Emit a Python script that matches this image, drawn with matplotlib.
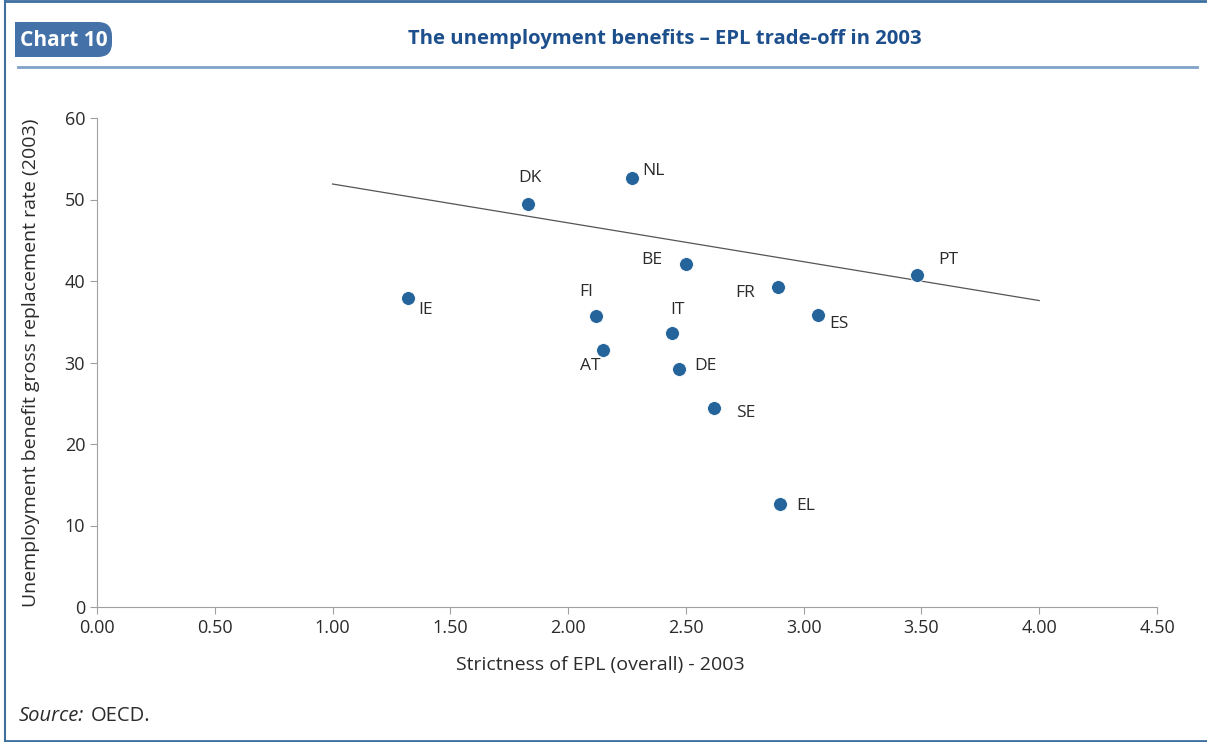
import numpy as np
import matplotlib.pyplot as plt
from matplotlib.patches import FancyBboxPatch, Rectangle

# data
countries = ["IE", "DK", "NL", "BE", "FI", "IT", "AT", "DE", "SE", "FR", "ES", "PT", "EL"]
epl = [1.32, 1.83, 2.27, 2.50, 2.12, 2.44, 2.15, 2.47, 2.62, 2.89, 3.06, 3.48, 2.90]
replacement = [37.9, 49.4, 52.6, 42.1, 35.7, 33.6, 31.5, 29.2, 24.4, 39.3, 35.8, 40.7, 12.6]
trend_x = [1.0, 4.0]
trend_y = [51.9, 37.6]
x_ticks = [0.0, 0.5, 1.0, 1.5, 2.0, 2.5, 3.0, 3.5, 4.0, 4.5]
y_ticks = [0, 10, 20, 30, 40, 50, 60]

# label offsets in pixels (dx, dy)
offsets = {"IE": (18, -12), "DK": (2, 26), "NL": (22, 7), "BE": (-34, 4),
           "FI": (-10, 24), "IT": (6, 23), "AT": (-13, -16), "DE": (27, 3),
           "SE": (32, -5), "FR": (-33, -6), "ES": (21, -9), "PT": (32, 15),
           "EL": (26, -2)}

plt.rcParams['font.family'] = ['Open Sans', 'DejaVu Sans']
text_col = "#2b2b2b"
axis_col = "#a0a0a0"
dot_col = "#24649a"
frame_col = "#3f6f9f"

W, H = 1207, 742
fig = plt.figure(figsize=(W / 100, H / 100), dpi=100)

# overlay in pixel coordinates for the frame and header
ov = fig.add_axes([0, 0, 1, 1])
ov.set_xlim(0, W)
ov.set_ylim(H, 0)
ov.axis("off")
ov.plot([5, 5], [0, H], color=frame_col, lw=1.5)
ov.plot([5, W], [1.2, 1.2], color=frame_col, lw=2)
ov.plot([5, W], [H - 1, H - 1], color=frame_col, lw=2)
ov.plot([18, 1197], [66.5, 66.5], color="#7ea3c8", lw=2)
ov.add_patch(FancyBboxPatch((15, 22), 97, 35, boxstyle="round,pad=0,rounding_size=14",
                            color="#4472a8", lw=0))
ov.add_patch(Rectangle((15, 22), 30, 35, color="#4472a8", lw=0))
ov.text(20, 40, "Chart 10", color="white", fontsize=15, fontweight="bold", va="center", ha="left")
ov.text(665, 39, "The unemployment benefits \u2013 EPL trade-off in 2003",
        color="#1d4f8c", fontsize=14.6, fontweight="bold", va="center", ha="center")
ov.text(19, 716, "Source:", style="italic", fontsize=14.5, color=text_col, va="center")
ov.text(91, 716, "OECD.", fontsize=14.5, color=text_col, va="center")

ax = fig.add_axes([97 / W, 1 - 607 / H, (1157 - 97) / W, (607 - 118) / H])
ax.plot(trend_x, trend_y, color="#555555", linewidth=0.9)
ax.scatter(epl, replacement, s=100, color=dot_col, edgecolors="white", linewidths=0.6, zorder=3)
for c, x, y in zip(countries, epl, replacement):
    ax.annotate(c, (x, y), xytext=offsets[c], textcoords="offset pixels",
                ha="center", va="center", fontsize=12.5, color=text_col)

ax.set_xlim(0, 4.5)
ax.set_ylim(0, 60)
ax.set_xticks(x_ticks)
ax.set_xticklabels([f"{t:.2f}" for t in x_ticks])
ax.set_yticks(y_ticks)
for s in ["top", "right"]:
    ax.spines[s].set_visible(False)
for s in ["left", "bottom"]:
    ax.spines[s].set_color(axis_col)
ax.tick_params(colors=axis_col, labelcolor=text_col, labelsize=13, length=5)
ax.set_xlabel("Strictness of EPL (overall) - 2003", fontsize=14, color=text_col, va="center")
ax.xaxis.set_label_coords((600 - 97) / 1060, (607 - 665) / 489)
ax.set_ylabel("Unemployment benefit gross replacement rate (2003)", fontsize=14,
              color=text_col, labelpad=18)

fig.savefig("out.png", dpi=100)
